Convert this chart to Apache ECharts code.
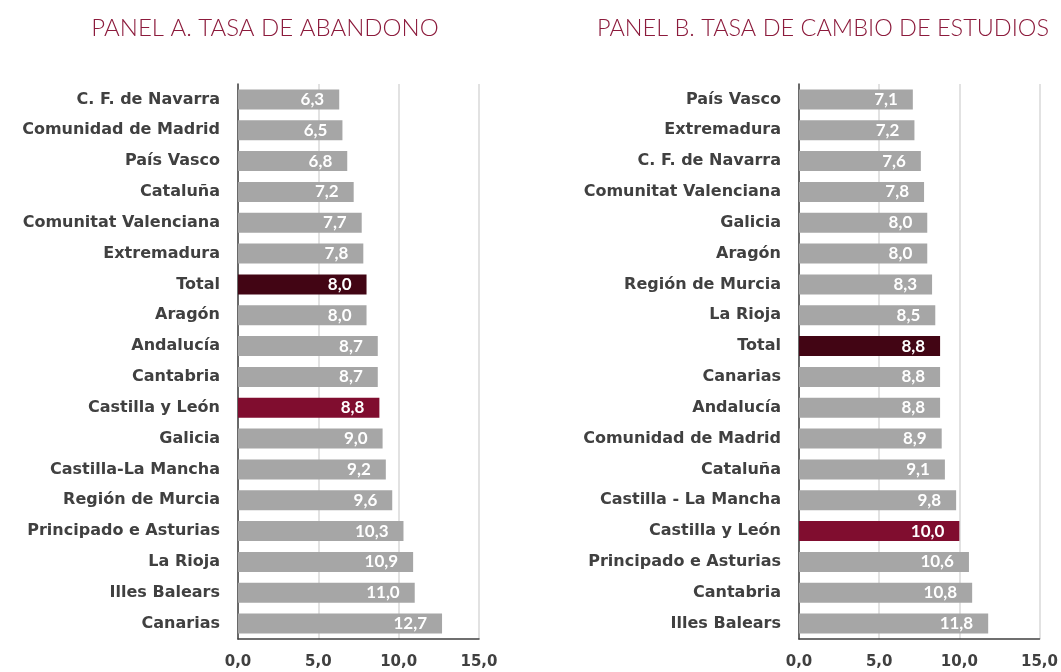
<!DOCTYPE html>
<html>
<head>
<meta charset="utf-8">
<script src="https://cdn.jsdelivr.net/npm/echarts@6/dist/echarts.min.js"></script>
<style>
  html, body { margin: 0; padding: 0; background: #fff; }
  #chart { width: 1061px; height: 672px; }
</style>
</head>
<body>
<div id="chart"></div>
<script>
// Panel A: tasa de abandono
const catsA = ['C. F. de Navarra', 'Comunidad de Madrid', 'País Vasco', 'Cataluña', 'Comunitat Valenciana',
  'Extremadura', 'Total', 'Aragón', 'Andalucía', 'Cantabria', 'Castilla y León', 'Galicia',
  'Castilla-La Mancha', 'Región de Murcia', 'Principado e Asturias', 'La Rioja', 'Illes Balears', 'Canarias']
const valsA = [6.3, 6.5, 6.8, 7.2, 7.7, 7.8, 8.0, 8.0, 8.7, 8.7, 8.8, 9.0, 9.2, 9.6, 10.3, 10.9, 11.0, 12.7]

// Panel B: tasa de cambio de estudios
const catsB = ['País Vasco', 'Extremadura', 'C. F. de Navarra', 'Comunitat Valenciana', 'Galicia', 'Aragón',
  'Región de Murcia', 'La Rioja', 'Total', 'Canarias', 'Andalucía', 'Comunidad de Madrid', 'Cataluña',
  'Castilla - La Mancha', 'Castilla y León', 'Principado e Asturias', 'Cantabria', 'Illes Balears']
const valsB = [7.1, 7.2, 7.6, 7.8, 8.0, 8.0, 8.3, 8.5, 8.8, 8.8, 8.8, 8.9, 9.1, 9.8, 10.0, 10.6, 10.8, 11.8]

const xTicks = [0, 5, 10, 15]

const GREY = '#a6a6a6'
const TOTAL = '#420514'
const CYL = '#800d2f'
const TEXT = '#404040'
const FONT = '"DejaVu Sans", sans-serif'
const LATO = 'Lato, "Open Sans", sans-serif'

const fmt = v => v.toFixed(1).replace('.', ',')

const barData = (cats, vals) => vals.map((v, i) => ({
  value: v,
  itemStyle: {
    color: cats[i] === 'Total' ? TOTAL : cats[i] === 'Castilla y León' ? CYL : GREY
  }
}))

const xAxisCfg = gridIndex => ({
  type: 'value',
  gridIndex,
  min: xTicks[0],
  max: xTicks[xTicks.length - 1],
  interval: xTicks[1] - xTicks[0],
  axisLine: { show: true, lineStyle: { color: TEXT, width: 1.5 } },
  axisTick: { show: false },
  splitLine: { show: true, lineStyle: { color: '#d9d9d9', width: 1.5 } },
  axisLabel: {
    color: TEXT, fontFamily: FONT, fontWeight: 'bold', fontSize: 15, margin: 16,
    formatter: v => fmt(v)
  }
})

const yAxisCfg = (gridIndex, cats) => ({
  type: 'category',
  gridIndex,
  data: cats,
  inverse: true,
  axisLine: { show: true, lineStyle: { color: TEXT, width: 1.5 } },
  axisTick: { show: false },
  axisLabel: {
    color: TEXT, fontFamily: FONT, fontWeight: 'bold', fontSize: 16, margin: 18,
    padding: [5, 0, 0, 0]
  }
})

const seriesCfg = (idx, cats, vals) => ({
  type: 'bar',
  xAxisIndex: idx,
  yAxisIndex: idx,
  data: barData(cats, vals),
  barWidth: 20,
  silent: true,
  label: {
    show: true,
    position: 'insideRight',
    distance: 15,
    color: '#fff',
    fontFamily: LATO,
    fontWeight: 'bold',
    fontSize: 17,
    formatter: p => fmt(p.value)
  }
})

const chart = echarts.init(document.getElementById('chart'))
chart.setOption({
  animation: false,
  title: [
    { text: 'PANEL A. TASA DE ABANDONO', left: 260, top: 11, textAlign: 'center',
      textStyle: { color: '#8c1b3c', fontFamily: LATO, fontWeight: 300, fontSize: 24 } },
    { text: 'PANEL B. TASA DE CAMBIO DE ESTUDIOS', left: 818, top: 11, textAlign: 'center',
      textStyle: { color: '#8c1b3c', fontFamily: LATO, fontWeight: 300, fontSize: 23.5 } }
  ],
  grid: [
    { left: 238, width: 241, top: 84, bottom: 33 },
    { left: 799, width: 242, top: 84, bottom: 33 }
  ],
  xAxis: [xAxisCfg(0), xAxisCfg(1)],
  yAxis: [yAxisCfg(0, catsA), yAxisCfg(1, catsB)],
  series: [seriesCfg(0, catsA, valsA), seriesCfg(1, catsB, valsB)]
})
</script>
</body>
</html>
